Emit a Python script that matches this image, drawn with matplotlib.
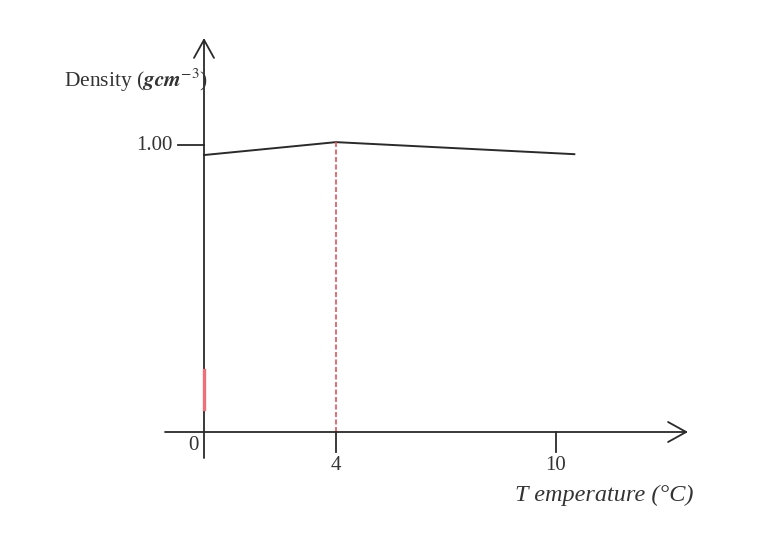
import matplotlib.pyplot as plt
import numpy as np

# schematic curve
temps = [0, 4, 10.5]
density = [0.965, 1.01, 0.968]

xticks = [4, 10]
xtick_labels = ['4', '10']
ytick = 1.00
ytick_label = '1.00'
peak_temp = 4
glitch = [0.08, 0.215]   # small red mark on the y axis

# the sketch is not drawn to scale: 10 sits a bit further right than linear
t_anchor = [-100, 0, 4, 10, 100]
p_anchor = [-100, 0, 4, 10.667, 10.667 + 90 * 6.667 / 6]


def fwd(t):
    return np.interp(t, t_anchor, p_anchor)


def inv(p):
    return np.interp(p, p_anchor, t_anchor)


plt.rcParams['font.family'] = ['Liberation Serif', 'DejaVu Serif']
plt.rcParams['mathtext.fontset'] = 'stix'

fig = plt.figure(figsize=(7.59, 5.39), dpi=100)
ax = fig.add_axes([0, 0, 1, 1])
ax.set_xscale('function', functions=(fwd, inv))
ax.set_xlim(inv(-204 / 33), inv(555 / 33))
ax.set_ylim(-107 / 287, 432 / 287)
ax.axis('off')

ink = '#2a2a2a'
txt = '#333333'
arrow = dict(arrowstyle='->,head_length=0.65,head_width=0.36', color=ink,
             lw=1.3, mutation_scale=20, shrinkA=0, shrinkB=0)

# axes with open arrow heads
ax.annotate('', xy=(0, 394 / 287), xytext=(0, -26 / 287), arrowprops=arrow)
ax.annotate('', xy=(inv(484 / 33), 0), xytext=(inv(-39 / 33), 0), arrowprops=arrow)

# ticks
for t in xticks:
    ax.plot([t, t], [0, -20 / 287], color=ink, lw=1.3)
ax.plot([inv(-26 / 33), 0], [ytick, ytick], color=ink, lw=1.3)

# tick labels
ax.text(inv(-31 / 33), ytick, ytick_label, ha='right', va='center', fontsize=15, color=txt)
ax.text(inv(-11 / 33), -14 / 287, '0', ha='center', va='center', fontsize=15, color=txt)
for t, lab in zip(xticks, xtick_labels):
    ax.text(t, -33 / 287, lab, ha='center', va='center', fontsize=15, color=txt)

# curve
ax.plot(temps, density, color=ink, lw=1.4)

# dashed red line at the density maximum
ax.plot([peak_temp, peak_temp], [0, max(density)], color='#e8505b', lw=1.2,
        linestyle=(0, (3, 1.5)))
ax.plot([0, 0], glitch, color='#ef6f78', lw=2.4, zorder=5)

# axis labels
ax.text(inv(4 / 33), 352 / 287, r'Density ($\boldsymbol{gcm}^{-3}$)', ha='right',
        va='center', fontsize=15.5, color=txt)
ax.text(inv(400 / 33), -63 / 287, 'T emperature (°C)', ha='center', va='center',
        fontsize=17.5, style='italic', color=txt)

fig.savefig('out.png', dpi=100)
